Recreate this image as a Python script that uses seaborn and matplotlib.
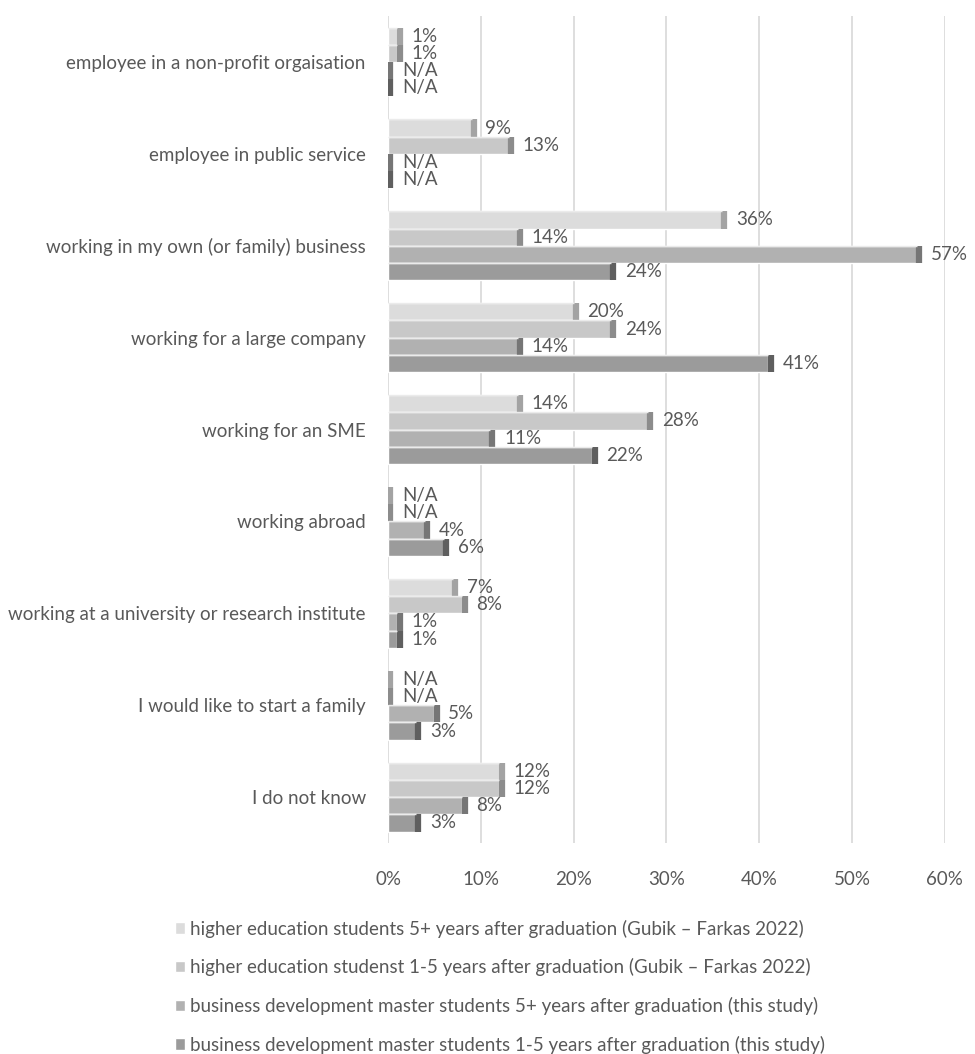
import numpy as np
import pandas as pd
import matplotlib
matplotlib.use("Agg")
import matplotlib.pyplot as plt
import seaborn as sns

# ── data (None = N/A) ────────────────────────────────────────────
categories = [
    "employee in a non-profit orgaisation",
    "employee in public service",
    "working in my own (or family) business",
    "working for a large company",
    "working for an SME",
    "working abroad",
    "working at a university or research institute",
    "I would like to start a family",
    "I do not know",
]
series = [
    "higher education students 5+ years after graduation (Gubik \u2013 Farkas 2022)",
    "higher education studenst 1-5 years after graduation (Gubik \u2013 Farkas 2022)",
    "business development master students 5+ years after graduation (this study)",
    "business development master students 1-5 years after graduation (this study)",
]
he_5plus = [1, 9, 36, 20, 14, None, 7, None, 12]
he_1to5 = [1, 13, 14, 24, 28, None, 8, None, 12]
bd_5plus = [None, None, 57, 14, 11, 4, 1, 5, 8]
bd_1to5 = [None, None, 24, 41, 22, 6, 1, 3, 3]

fills = ["#dcdcdc", "#c8c8c8", "#b1b1b1", "#9b9b9b"]
sides = ["#a3a3a3", "#8c8c8c", "#767676", "#5f5f5f"]
text_grey = "#595959"
fs = 13.5

rows = []
for name, vals in zip(series, [he_5plus, he_1to5, bd_5plus, bd_1to5]):
    for cat, v in zip(categories, vals):
        rows.append({"category": cat, "series": name,
                     "value": 0 if v is None else v,
                     "label": "N/A" if v is None else f"{v}%"})
df = pd.DataFrame(rows)

sns.set_style("white")
plt.rcParams["font.family"] = ["Lato", "DejaVu Sans"]

fig = plt.figure(figsize=(9.75, 10.54), dpi=100)
ax = fig.add_axes([0.398, 0.2002, 0.571, 0.7846])

sns.barplot(data=df, y="category", x="value", hue="series", orient="h",
            palette=fills, width=0.75, dodge=True, ax=ax,
            order=categories, hue_order=series, saturation=1, legend=True)

# fake 3D: darker side face at the end of each bar + light top edge
for i, cont in enumerate(ax.containers):
    for p in cont:
        x_end = p.get_x() + p.get_width()
        ax.vlines(x_end + 0.25, p.get_y(), p.get_y() + p.get_height(),
                  colors=sides[i], linewidth=4.5, zorder=3)
        ax.hlines(p.get_y(), p.get_x(), x_end, colors="#ebebeb",
                  linewidth=1, zorder=3)
    labs = df[df["series"] == series[i]].set_index("category").loc[categories, "label"]
    ax.bar_label(cont, labels=list(labs), padding=10, color=text_grey,
                 fontsize=fs)

ax.set_xlim(0, 60)
ax.set_ylim(len(categories) - 0.5, -0.5)
ax.set_xticks(range(0, 61, 10))
ax.set_xticklabels([f"{t}%" for t in range(0, 61, 10)])
ax.xaxis.grid(True, color="#dedede", linewidth=1.4)
ax.set_axisbelow(True)
for s in ax.spines.values():
    s.set_visible(False)
ax.set_xlabel("")
ax.set_ylabel("")
ax.tick_params(axis="x", colors=text_grey, labelsize=fs, length=0, pad=20)
ax.tick_params(axis="y", colors=text_grey, labelsize=fs, length=0, pad=16)

handles, labels = ax.get_legend_handles_labels()
ax.get_legend().remove()
fig.legend(handles, labels, loc="upper left",
           bbox_to_anchor=(0.179, 0.1275), frameon=False,
           fontsize=fs, labelcolor=text_grey, handlelength=0.55,
           handleheight=0.55, handletextpad=0.3, labelspacing=1.1,
           borderaxespad=0, borderpad=0)

fig.savefig("out.png", dpi=100)
